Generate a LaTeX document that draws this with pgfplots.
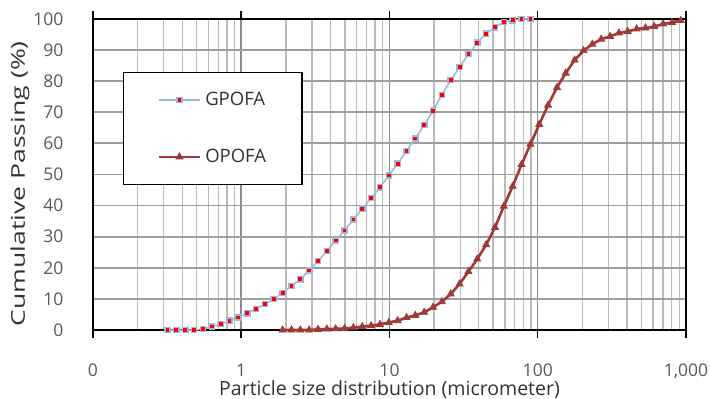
\documentclass[border=0pt]{standalone}
\usepackage{pgfplots}
\pgfplotsset{compat=1.18}
\usepackage{graphicx}
\usepackage{fontspec}
\setmainfont{Open Sans}
\definecolor{gblue}{HTML}{9DB8DA}
\definecolor{ored}{HTML}{9E3B38}
\definecolor{tickgray}{HTML}{595959}
\definecolor{labgray}{HTML}{333333}
\begin{document}
\begin{tikzpicture}
\useasboundingbox (-93pt,-69pt) rectangle (617pt,330pt);
\begin{axis}[
  at={(0pt,0pt)}, anchor=south west,
  scale only axis, width=593pt, height=311pt,
  xmode=log, xmin=0.1, xmax=1000, ymin=0, ymax=100,
  xtick={0.1,1,10,100,1000},
  xticklabels={0,1,10,100,{1,000}},
  ytick={0,10,...,100},
  /pgf/number format/assume math mode=true,
  font=\fontsize{17.5}{20}\selectfont,
  tick label style={text=tickgray},
  xticklabel style={anchor=base, inner sep=0pt, yshift=-38pt},
  yticklabel style={anchor=east, xshift=-26pt},
  x tick style={black, line width=1.5pt},
  y tick style={draw=none},
  major tick length=8pt,
  minor tick length=0pt,
  xtick align=outside,
  grid=both,
  major x grid style={color=black!45, line width=1.5pt},
  minor x grid style={color=black!27, line width=1.4pt},
  major y grid style={color=black!38, line width=1.8pt},
  axis line style={black, line width=1.8pt},
  clip=false,
  every axis x label/.style={at={(axis description cs:0.5,0)}, anchor=base, inner sep=0pt, yshift=-65pt, text=labgray, font=\fontsize{19.5}{22}\selectfont},
  every axis y label/.style={at={(axis description cs:-0.123,0.47)}, anchor=center, rotate=90, text=labgray, font=\fontsize{19}{22}\selectfont},
  xlabel={Particle size distribution (micrometer)},
  ylabel={\scalebox{1.4}[1]{Cumulative Passing (\%)}},
  legend style={at={(axis description cs:0.0506,0.830)}, anchor=north west,
    draw=black, line width=1.3pt, fill=white,
    inner xsep=34pt, inner ysep=18pt, row sep=38pt, column sep=2pt,
    text=labgray, font=\fontsize{18.5}{21}\selectfont,
    nodes={inner sep=2pt}},
  legend cell align=left,
  legend image code/.code={\draw[mark repeat=2,mark phase=2,#1] plot coordinates {(0pt,0pt) (20.5pt,0pt) (41pt,0pt)};},
]
\addplot[color=gblue, line width=1.5pt, mark=square*, mark size=2.6pt,
  mark options={fill=red, draw=gblue, line width=1.4pt}] coordinates {
(0.318,0) (0.365,0) (0.419,0) (0.481,0) (0.552,0.3) (0.633,1.1) (0.726,1.9) (0.833,3.0) (0.956,4.0) (1.097,5.4) (1.259,6.8) (1.445,8.3) (1.657,10.0) (1.902,11.9) (2.182,14.2) (2.503,16.3) (2.872,19.1) (3.296,22.2) (3.780,25.4) (4.337,28.8) (4.977,32.0) (5.710,35.5) (6.551,39.0) (7.516,42.4) (8.624,45.9) (9.894,49.7) (11.35,53.5) (13.03,57.5) (14.94,61.6) (17.15,65.9) (19.67,70.5) (22.57,75.6) (25.89,80.4) (29.71,84.6) (34.09,88.7) (39.11,92.4) (44.87,95.3) (51.48,97.3) (59.07,99.0) (67.77,99.6) (77.76,100) (89.22,100)
};
\addlegendentry{GPOFA}
\addplot[color=ored, line width=2.6pt, mark=triangle*, mark size=4pt,
  mark options={fill=ored, draw=ored, line width=0.8pt}] coordinates {
(1.902,0) (2.182,0) (2.503,0) (2.872,0) (3.296,0.2) (3.780,0.3) (4.337,0.4) (4.977,0.5) (5.710,0.75) (6.551,1.1) (7.516,1.4) (8.624,1.8) (9.894,2.4) (11.35,3.0) (13.03,4.0) (14.94,4.7) (17.15,5.7) (19.67,7.3) (22.57,9.1) (25.89,11.6) (29.71,14.8) (34.09,18.8) (39.11,22.8) (44.87,27.4) (51.48,33.0) (59.07,39.8) (67.77,46.2) (77.76,53.2) (89.22,59.7) (102.3,66.1) (117.4,72.3) (134.8,78.0) (154.5,82.6) (177.4,86.8) (203.7,89.8) (233.5,91.9) (267.9,93.5) (307.6,94.4) (353.2,95.5) (404.6,96.0) (464.5,96.8) (533.3,97.1) (611.0,97.6) (701.5,98.4) (805.4,98.9) (922.6,99.5)
};
\addlegendentry{OPOFA}
\end{axis}
\end{tikzpicture}
\end{document}
